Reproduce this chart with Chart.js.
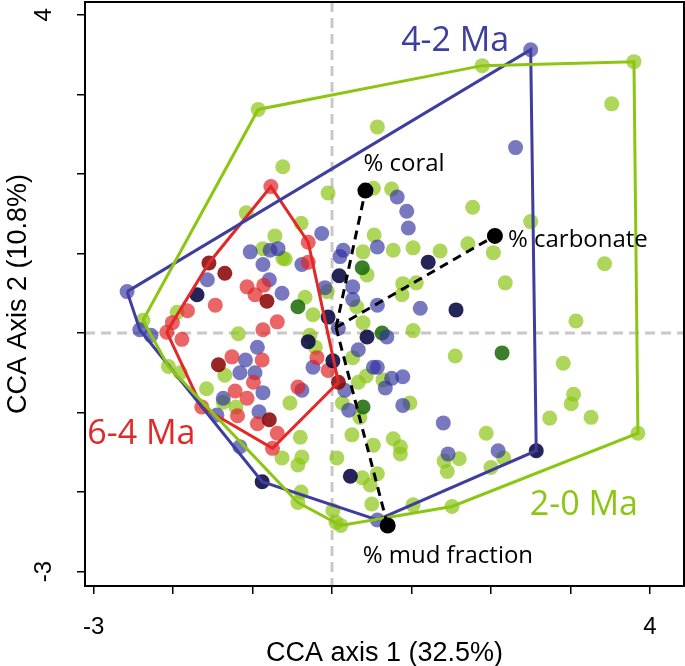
<!DOCTYPE html>
<html>
<head>
<meta charset="utf-8">
<script src="https://cdn.jsdelivr.net/npm/chart.js@4.4.1/dist/chart.umd.min.js"></script>
<style>
  html, body { margin: 0; padding: 0; background: #fff; }
  #wrap { width: 685px; height: 666px; }
</style>
</head>
<body>
<div id="wrap"><canvas id="cca"></canvas></div>
<script>
// site scores [axis 1, axis 2], per age bin
const ma20 = [[-0.93,2.81],[1.89,3.36],[3.80,3.41],[3.52,2.88],[0.57,2.59],[-0.62,2.09],[-0.05,1.76],[0.52,1.82],[0.75,1.81],[-1.08,1.51],[-0.39,1.38],[-0.72,1.22],[-0.87,1.06],[-0.62,0.94],[1.77,1.58],[2.50,1.40],[0.53,1.23],[0.77,1.04],[1.02,1.07],[0.39,1.02],[1.36,1.03],[1.71,1.12],[2.03,1.01],[3.43,0.87],[2.18,0.63],[-0.59,0.93],[0.44,0.73],[0.89,0.62],[1.06,0.63],[0.88,0.48],[-0.34,0.45],[0.31,0.33],[-0.24,0.23],[0.39,0.13],[1.02,0.03],[3.07,0.15],[-0.28,-0.03],[-0.21,-0.18],[-1.18,-0.01],[-2.38,0.16],[-1.95,0.26],[-2.06,-0.42],[-1.91,-0.50],[-1.35,-0.53],[-1.58,-0.70],[-1.21,-0.93],[-0.53,-0.88],[-0.63,-1.57],[-0.40,-1.31],[-0.38,-1.56],[0.06,-1.57],[0.26,-0.31],[0.33,-0.62],[0.43,-0.54],[0.64,-0.59],[0.13,-0.88],[0.35,-1.06],[0.98,-0.88],[0.25,-1.28],[0.52,-1.41],[0.77,-1.33],[0.86,-1.43],[0.86,-1.52],[-0.43,-1.66],[0.57,-1.77],[0.38,-1.82],[0.48,-1.91],[0.50,-2.15],[-0.39,-2.00],[-0.43,-2.13],[0.01,-2.23],[0.05,-2.38],[0.11,-2.42],[1.02,-2.16],[1.55,-0.29],[2.91,-0.38],[3.04,-0.77],[3.01,-0.89],[3.26,-1.06],[2.74,-1.07],[1.94,-1.26],[1.41,-1.61],[1.60,-1.58],[1.45,-1.74],[2.16,-1.57],[2.00,-1.69],[3.85,-1.26],[1.51,-2.18],[-1.37,-0.87],[-0.06,0.52]];
const ma20Dark = [[-0.43,0.33],[0.38,0.82],[2.14,-0.25],[0.39,-0.93],[0.63,0.00]];

const ma42 = [[-2.58,0.52],[-2.42,0.04],[-2.28,-0.03],[-1.57,0.67],[-1.03,1.02],[-0.87,0.86],[-0.78,1.04],[-0.68,1.06],[-0.38,0.86],[-0.13,1.25],[-0.79,0.67],[-0.63,0.50],[-0.94,-0.18],[-1.09,-0.34],[-1.16,-0.50],[-0.97,-0.50],[-0.87,-0.75],[-0.38,-0.72],[-1.37,-0.82],[-0.92,-0.99],[-1.45,-1.03],[-0.24,-0.43],[-1.16,-1.43],[2.50,3.56],[2.31,2.33],[0.82,1.71],[0.94,1.53],[0.96,1.32],[0.57,1.08],[0.14,1.04],[0.10,0.96],[0.26,0.58],[-0.09,0.57],[0.26,0.42],[0.57,0.35],[1.11,0.31],[0.08,0.06],[0.69,-0.05],[0.33,-0.21],[0.52,-0.43],[0.57,-0.43],[0.75,-0.57],[0.89,-0.55],[0.67,-0.69],[0.16,-0.72],[0.21,-0.97],[0.89,-0.91],[0.57,-2.35],[1.40,-1.13],[1.46,-1.52],[2.09,-1.48]];
const ma42Dark = [[-1.70,0.48],[0.09,0.72],[-0.05,0.20],[-0.30,-0.11],[0.01,-0.35],[0.44,-0.05],[1.21,0.89],[1.56,0.29],[0.23,-1.80],[2.57,-1.48],[-0.88,-1.87]];

const ma64 = [[-0.77,1.84],[-0.30,1.14],[-0.30,0.89],[-1.07,0.58],[-0.97,0.48],[-0.86,0.60],[-1.47,0.35],[-1.82,0.28],[-2.01,0.13],[-2.08,0.01],[-1.89,-0.08],[-0.87,0.04],[-0.69,0.14],[-1.26,-0.30],[-0.88,-0.34],[-0.99,-0.62],[-1.22,-0.73],[-1.07,-0.82],[-0.43,-0.68],[-0.19,-0.31],[-0.05,-0.47],[-1.64,-0.93],[-1.19,-1.04],[-0.94,-1.14],[-0.69,-1.26],[-0.75,-1.45]];
const ma64Dark = [[-1.55,0.88],[-1.35,0.75],[-0.82,0.40],[-1.43,-0.40],[-0.79,-1.09],[0.08,-0.62]];

// environmental vectors
const envNames = ['% coral', '% carbonate', '% mud fraction'];
const envX = [0.42, 2.05, 0.70];
const envY = [1.79, 1.22, -2.42];
const envOrigin = [0.05, 0.07];

const axisTicks = [-3, -2, -1, 0, 1, 2, 3, 4];
const labeledTicks = [-3, 4];

const toXY = arr => arr.map(p => ({ x: p[0], y: p[1] }));

// convex hull (monotone chain), closed
function hull(pts) {
    const p = pts.slice().sort((a, b) => a[0] - b[0] || a[1] - b[1]);
    const cross = (o, a, b) => (a[0] - o[0]) * (b[1] - o[1]) - (a[1] - o[1]) * (b[0] - o[0]);
    const lower = [], upper = [];
    for (const q of p) {
        while (lower.length >= 2 && cross(lower[lower.length - 2], lower[lower.length - 1], q) <= 0) lower.pop();
        lower.push(q);
    }
    for (let i = p.length - 1; i >= 0; i--) {
        const q = p[i];
        while (upper.length >= 2 && cross(upper[upper.length - 2], upper[upper.length - 1], q) <= 0) upper.pop();
        upper.push(q);
    }
    upper.pop(); lower.pop();
    const h = lower.concat(upper);
    h.push(h[0]);
    return toXY(h);
}

const GREEN = '#8cc612', BLUE = '#3e3e9e', RED = '#e22828';
const AX_FONT = '"Liberation Sans", Arial, Helvetica, sans-serif';
const LBL_FONT = '"Open Sans", "Noto Sans", sans-serif';

const pointSet = (data, color, order) => ({
    data: toXY(data), backgroundColor: color, borderWidth: 0,
    pointRadius: 7.5, pointHoverRadius: 7.5, order: order
});
const hullSet = (data, color, order) => ({
    data: hull(data), showLine: true, borderColor: color, borderWidth: 3,
    pointRadius: 0, fill: false, tension: 0, order: order
});

const datasets = [
    pointSet(ma20, 'rgba(140,196,20,0.7)', 8),
    pointSet(ma20Dark, 'rgba(25,105,5,0.85)', 7),
    pointSet(ma42, 'rgba(48,48,160,0.65)', 6),
    pointSet(ma42Dark, 'rgba(12,12,70,0.9)', 5),
    pointSet(ma64, 'rgba(225,35,35,0.7)', 5),
    pointSet(ma64Dark, 'rgba(135,0,0,0.85)', 4),
    hullSet(ma20.concat(ma20Dark), GREEN, 3),
    hullSet(ma42.concat(ma42Dark), BLUE, 3),
    hullSet(ma64.concat(ma64Dark), RED, 3)
];
envNames.forEach((n, i) => {
    datasets.push({
        data: [{ x: envOrigin[0], y: envOrigin[1] }, { x: envX[i], y: envY[i] }],
        showLine: true, borderColor: '#000', borderWidth: 3, borderDash: [9, 6],
        pointRadius: [0, 6.5], backgroundColor: '#000', borderCapStyle: 'butt', order: 1
    });
});

const extras = {
    id: 'extras',
    beforeDatasetsDraw(chart) {
        const { ctx, chartArea: a, scales: { x, y } } = chart;
        ctx.save();
        ctx.strokeStyle = '#c8c8c8';
        ctx.lineWidth = 3;
        ctx.setLineDash([10, 6]);
        ctx.beginPath();
        const x0 = x.getPixelForValue(0), y0 = y.getPixelForValue(0);
        ctx.moveTo(x0, a.top); ctx.lineTo(x0, a.bottom);
        ctx.moveTo(a.left, y0); ctx.lineTo(a.right, y0);
        ctx.stroke();
        ctx.restore();
    },
    afterDraw(chart) {
        const { ctx, chartArea: a, scales: { x, y } } = chart;
        ctx.save();
        // frame
        ctx.strokeStyle = '#000';
        ctx.lineWidth = 2;
        ctx.strokeRect(a.left, a.top, a.right - a.left, a.bottom - a.top);
        // rotated y tick labels
        ctx.fillStyle = '#000';
        ctx.font = '24px ' + AX_FONT;
        ctx.textAlign = 'center';
        ctx.textBaseline = 'middle';
        labeledTicks.forEach(v => {
            ctx.save();
            ctx.translate(y.left + 44, y.getPixelForValue(v));
            ctx.rotate(-Math.PI / 2);
            ctx.fillText(String(v), 0, 0);
            ctx.restore();
        });
        // vector labels
        const offs = [[-2, -26], [13, 4], [-25, 31]];
        ctx.font = '24px ' + LBL_FONT;
        ctx.textAlign = 'left';
        envNames.forEach((n, i) => {
            ctx.fillText(n, x.getPixelForValue(envX[i]) + offs[i][0], y.getPixelForValue(envY[i]) + offs[i][1]);
        });
        // group labels
        ctx.font = '34px ' + LBL_FONT;
        ctx.textAlign = 'center';
        [['2-0 Ma', GREEN, 3.17, -2.16], ['4-2 Ma', BLUE, 1.55, 3.66], ['6-4 Ma', RED, -2.40, -1.27]].forEach(g => {
            ctx.fillStyle = g[1];
            ctx.fillText(g[0], x.getPixelForValue(g[2]), y.getPixelForValue(g[3]));
        });
        ctx.restore();
    }
};

new Chart(document.getElementById('cca'), {
    type: 'scatter',
    data: { datasets: datasets },
    options: {
        responsive: true,
        maintainAspectRatio: false,
        animation: false,
        layout: { autoPadding: false, padding: { top: 2, right: 1, left: 0, bottom: 0 } },
        plugins: { legend: { display: false }, tooltip: { enabled: false } },
        scales: {
            x: {
                type: 'linear', min: -3.11, max: 4.43,
                afterBuildTicks: s => { s.ticks = axisTicks.map(v => ({ value: v })); },
                afterFit: s => { s.height = 80; },
                grid: { drawOnChartArea: false, drawTicks: true, tickLength: 8, color: '#000', lineWidth: 1.5 },
                border: { display: false },
                ticks: {
                    autoSkip: false, maxRotation: 0, padding: 19, color: '#000',
                    font: { family: AX_FONT, size: 24 },
                    callback: v => labeledTicks.includes(v) ? String(v) : ''
                },
                title: { display: true, text: 'CCA axis 1 (32.5%)', color: '#000', font: { family: AX_FONT, size: 27 }, padding: { top: 0, bottom: -4 } }
            },
            y: {
                type: 'linear', min: -3.18, max: 4.16,
                afterBuildTicks: s => { s.ticks = axisTicks.map(v => ({ value: v })); },
                afterFit: s => { s.width = 85; },
                grid: { drawOnChartArea: false, drawTicks: true, tickLength: 8, color: '#000', lineWidth: 1.5 },
                border: { display: false },
                ticks: { display: false },
                title: { display: true, text: 'CCA Axis 2 (10.8%)', color: '#000', font: { family: AX_FONT, size: 27 }, padding: { top: 2, bottom: 0 } }
            }
        }
    },
    plugins: [extras]
});
</script>
</body>
</html>
